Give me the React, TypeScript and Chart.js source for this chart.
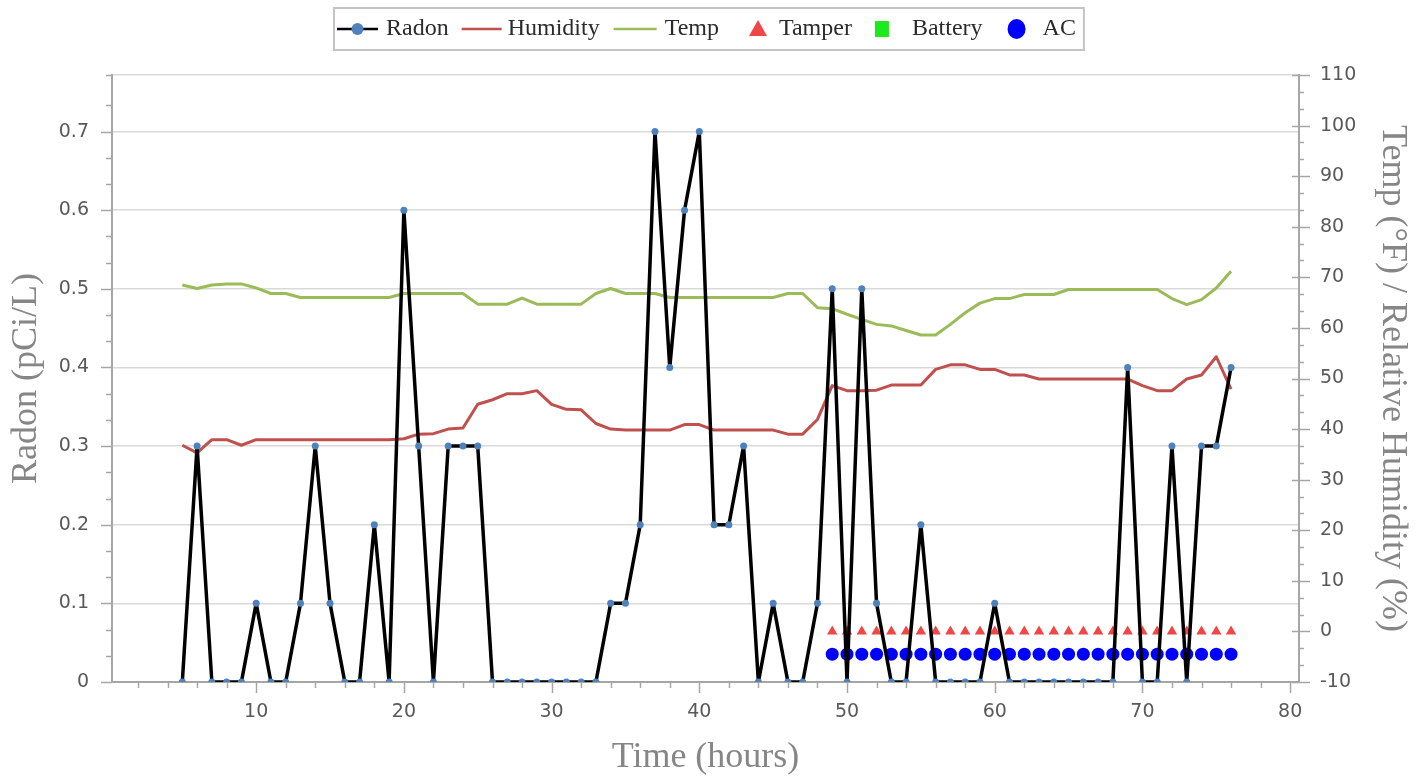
import React, { useEffect, useRef } from "react";
import { Chart, registerables } from "chart.js";
Chart.register(...registerables);

// ---------- DATA ----------
const hours = [
  5, 6, 7, 8, 9, 10, 11, 12, 13, 14,
  15, 16, 17, 18, 19, 20, 21, 22, 23, 24,
  25, 26, 27, 28, 29, 30, 31, 32, 33, 34,
  35, 36, 37, 38, 39, 40, 41, 42, 43, 44,
  45, 46, 47, 48, 49, 50, 51, 52, 53, 54,
  55, 56, 57, 58, 59, 60, 61, 62, 63, 64,
  65, 66, 67, 68, 69, 70, 71, 72, 73, 74,
  75, 76,
];

const radon = [
  0, 0.3, 0, 0, 0, 0.1, 0, 0, 0.1, 0.3,
  0.1, 0, 0, 0.2, 0, 0.6, 0.3, 0, 0.3, 0.3,
  0.3, 0, 0, 0, 0, 0, 0, 0, 0, 0.1,
  0.1, 0.2, 0.7, 0.4, 0.6, 0.7, 0.2, 0.2, 0.3, 0,
  0.1, 0, 0, 0.1, 0.5, 0, 0.5, 0.1, 0, 0,
  0.2, 0, 0, 0, 0, 0.1, 0, 0, 0, 0,
  0, 0, 0, 0, 0.4, 0, 0, 0.3, 0, 0.3,
  0.3, 0.4,
];

const humidity = [
  36.8, 35.3, 37.9, 37.9, 36.8, 37.9, 37.9, 37.9, 37.9, 37.9,
  37.9, 37.9, 37.9, 37.9, 37.9, 38.1, 39.0, 39.1, 40.0, 40.2,
  44.9, 45.8, 47.0, 47.0, 47.6, 44.9, 43.9, 43.8, 41.1, 40.0,
  39.8, 39.8, 39.8, 39.8, 40.9, 40.9, 39.8, 39.8, 39.8, 39.8,
  39.8, 39.0, 39.0, 41.9, 48.6, 47.6, 47.6, 47.7, 48.7, 48.7,
  48.7, 51.8, 52.7, 52.7, 51.8, 51.8, 50.7, 50.7, 49.9, 49.9,
  49.9, 49.9, 49.9, 49.9, 49.9, 48.6, 47.6, 47.6, 49.9, 50.7,
  54.3, 47.9,
];

const temp = [
  68.5, 67.8, 68.5, 68.7, 68.7, 67.9, 66.8, 66.8, 66.0, 66.0,
  66.0, 66.0, 66.0, 66.0, 66.0, 66.8, 66.8, 66.8, 66.8, 66.8,
  64.7, 64.7, 64.7, 65.9, 64.7, 64.7, 64.7, 64.7, 66.8, 67.8,
  66.8, 66.8, 66.8, 66.0, 66.0, 66.0, 66.0, 66.0, 66.0, 66.0,
  66.0, 66.8, 66.8, 64.0, 63.8, 62.7, 61.7, 60.7, 60.4, 59.5,
  58.6, 58.6, 60.7, 63.0, 64.9, 65.8, 65.8, 66.6, 66.6, 66.6,
  67.6, 67.6, 67.6, 67.6, 67.6, 67.6, 67.6, 65.8, 64.6, 65.6,
  67.9, 71.2,
];

const eventHours = [
  49, 50, 51, 52, 53, 54, 55, 56, 57, 58,
  59, 60, 61, 62, 63, 64, 65, 66, 67, 68,
  69, 70, 71, 72, 73, 74, 75, 76,
];
const tamper = [
  0, 0, 0, 0, 0, 0, 0, 0, 0, 0,
  0, 0, 0, 0, 0, 0, 0, 0, 0, 0,
  0, 0, 0, 0, 0, 0, 0, 0,
];
const ac = [
  -4.5, -4.5, -4.5, -4.5, -4.5, -4.5, -4.5, -4.5, -4.5, -4.5,
  -4.5, -4.5, -4.5, -4.5, -4.5, -4.5, -4.5, -4.5, -4.5, -4.5,
  -4.5, -4.5, -4.5, -4.5, -4.5, -4.5, -4.5, -4.5,
];
const battery: number[] = [];

const xTicks = [10, 20, 30, 40, 50, 60, 70, 80];
const radonTicks = [0, 0.1, 0.2, 0.3, 0.4, 0.5, 0.6, 0.7];
const radonTickLabels = ["0", "0.1", "0.2", "0.3", "0.4", "0.5", "0.6", "0.7"];
const envTicks = [-10, 0, 10, 20, 30, 40, 50, 60, 70, 80, 90, 100, 110];

// ---------- STYLE ----------
const AXIS = "#a6a6a6";
const GRID = "#d9d9d9";
const TICK_COLOR = "#595959";
const TITLE_COLOR = "#868686";
const RADON_DOT = "#4f81bd";
const HUM_COLOR = "#c0504d";
const TEMP_COLOR = "#9bbb59";
const TAMPER_COLOR = "#f04646";
const BATTERY_COLOR = "#1ee81e";
const AC_COLOR = "#0000ff";
const X_MIN = 0.24;
const X_MAX = 80.6;
const RADON_MAX = 0.772;
const TICK_FONT = { family: "DejaVu Sans", size: 19 };
const TITLE_FONT = { family: "Liberation Serif", size: 36, lineHeight: 1 };

const legendStyles = [
  { kind: "lineDot", pre: 3, iconW: 41, gap: 8 },
  { kind: "line", color: HUM_COLOR, pre: 13, iconW: 40, gap: 6 },
  { kind: "line", color: TEMP_COLOR, pre: 14, iconW: 43, gap: 8 },
  { kind: "triangle", color: TAMPER_COLOR, pre: 30, iconW: 18, gap: 12 },
  { kind: "square", color: BATTERY_COLOR, pre: 23, iconW: 14, gap: 23 },
  { kind: "circle", color: AC_COLOR, pre: 25, iconW: 18, gap: 17 },
];

const boxLegend = {
  id: "boxLegend",
  afterDraw(chart: any) {
    const ctx = chart.ctx;
    ctx.save();
    ctx.font = '24px "Liberation Serif"';
    const items = chart.data.datasets.map((ds: any, i: number) => ({
      label: ds.label as string,
      st: legendStyles[i],
      w: ctx.measureText(ds.label).width,
    }));
    let total = 8;
    items.forEach((it: any) => (total += it.st.pre + it.st.iconW + it.st.gap + it.w));
    const x0 = Math.round(709 - total / 2);
    const top = 8;
    const h = 42;
    const cy = top + h / 2;
    ctx.fillStyle = "#ffffff";
    ctx.fillRect(x0, top, total, h);
    ctx.strokeStyle = "#c4c4c4";
    ctx.lineWidth = 2;
    ctx.strokeRect(x0, top, total, h);
    let x = x0;
    items.forEach((it: any) => {
      const st = it.st;
      x += st.pre;
      const cx = x + st.iconW / 2;
      if (st.kind === "lineDot") {
        ctx.strokeStyle = "#000";
        ctx.lineWidth = 2.5;
        ctx.beginPath();
        ctx.moveTo(x, cy);
        ctx.lineTo(x + st.iconW, cy);
        ctx.stroke();
        ctx.fillStyle = RADON_DOT;
        ctx.beginPath();
        ctx.arc(cx, cy, 6, 0, Math.PI * 2);
        ctx.fill();
      } else if (st.kind === "line") {
        ctx.strokeStyle = st.color;
        ctx.lineWidth = 2.5;
        ctx.beginPath();
        ctx.moveTo(x, cy);
        ctx.lineTo(x + st.iconW, cy);
        ctx.stroke();
      } else if (st.kind === "triangle") {
        ctx.fillStyle = st.color;
        ctx.beginPath();
        ctx.moveTo(cx, cy - 9);
        ctx.lineTo(cx + 9, cy + 7);
        ctx.lineTo(cx - 9, cy + 7);
        ctx.closePath();
        ctx.fill();
      } else if (st.kind === "square") {
        ctx.fillStyle = st.color;
        ctx.fillRect(cx - 7, cy - 8, 14, 16);
      } else if (st.kind === "circle") {
        ctx.fillStyle = st.color;
        ctx.beginPath();
        ctx.ellipse(cx, cy, 9, 10, 0, 0, Math.PI * 2);
        ctx.fill();
      }
      x += st.iconW + st.gap;
      ctx.fillStyle = "#2b2b2b";
      ctx.textBaseline = "middle";
      ctx.textAlign = "left";
      ctx.fillText(it.label, x, cy);
      x += it.w;
    });
    ctx.restore();
  },
};

const axisMarks = {
  id: "axisMarks",
  beforeDatasetsDraw(chart: any) {
    const ctx = chart.ctx;
    const { left, right, bottom, top } = chart.chartArea;
    const xs = chart.scales.x;
    const yl = chart.scales.y;
    const yr = chart.scales.y1;
    ctx.save();
    ctx.strokeStyle = AXIS;
    ctx.lineWidth = 1.5;
    ctx.beginPath();
    // left axis: majors every 0.1, minors every 0.1/3
    for (let k = 0; k <= 22; k++) {
      const v = k / 30;
      const y = Math.round(yl.getPixelForValue(v)) + 0.5;
      const major = k % 3 === 0;
      ctx.moveTo(left - (major ? 11 : 6), y);
      ctx.lineTo(left, y);
    }
    ctx.moveTo(left - 6, top + 0.5);
    ctx.lineTo(left, top + 0.5);
    // right axis: majors every 10, minors every 10/3
    for (let k = 0; k <= 36; k++) {
      const v = -10 + (k * 10) / 3;
      const y = Math.round(yr.getPixelForValue(v)) + 0.5;
      const major = k % 3 === 0;
      if (major) {
        ctx.moveTo(right - 7, y);
        ctx.lineTo(right + 11, y);
      } else {
        ctx.moveTo(right, y);
        ctx.lineTo(right + 5, y);
      }
    }
    // bottom axis: majors every 10, minors every 2
    for (let t = 2; t <= 80; t += 2) {
      const x = Math.round(xs.getPixelForValue(t)) + 0.5;
      const major = t % 10 === 0;
      ctx.moveTo(x, bottom);
      ctx.lineTo(x, bottom + (major ? 11 : 6));
    }
    ctx.stroke();
    ctx.restore();
  },
};

const pts = (xs: number[], ys: number[]) => xs.map((x, i) => ({ x, y: ys[i] }));

export default function App() {
  const ref = useRef<HTMLCanvasElement | null>(null);
  useEffect(() => {
    if (!ref.current) return;
    const chart = new Chart(ref.current, {
      type: "line",
      data: {
        datasets: [
          {
            label: "Radon",
            data: pts(hours, radon),
            yAxisID: "y",
            borderColor: "#000000",
            borderWidth: 3.5,
            borderJoinStyle: "round",
            pointRadius: 3.5,
            pointBackgroundColor: RADON_DOT,
            pointBorderWidth: 0,
            tension: 0,
          },
          {
            label: "Humidity",
            data: pts(hours, humidity),
            yAxisID: "y1",
            borderColor: HUM_COLOR,
            borderWidth: 3,
            borderJoinStyle: "round",
            pointRadius: 0,
            tension: 0,
          },
          {
            label: "Temp",
            data: pts(hours, temp),
            yAxisID: "y1",
            borderColor: TEMP_COLOR,
            borderWidth: 3,
            borderJoinStyle: "round",
            pointRadius: 0,
            tension: 0,
          },
          {
            label: "Tamper",
            data: pts(eventHours, tamper),
            yAxisID: "y1",
            showLine: false,
            pointStyle: "triangle",
            pointRadius: 6,
            pointBackgroundColor: TAMPER_COLOR,
            pointBorderWidth: 0,
            borderColor: TAMPER_COLOR,
          },
          {
            label: "Battery",
            data: pts(eventHours, battery),
            yAxisID: "y1",
            showLine: false,
            pointStyle: "rect",
            pointRadius: 6,
            pointBackgroundColor: BATTERY_COLOR,
            pointBorderWidth: 0,
            borderColor: BATTERY_COLOR,
          },
          {
            label: "AC",
            data: pts(eventHours, ac),
            yAxisID: "y1",
            showLine: false,
            pointStyle: "circle",
            pointRadius: 6.5,
            pointBackgroundColor: AC_COLOR,
            pointBorderWidth: 0,
            borderColor: AC_COLOR,
          },
        ],
      },
      options: {
        animation: false,
        responsive: false,
        layout: { padding: { top: 75, left: 0, right: 0, bottom: 0 } },
        plugins: { legend: { display: false }, tooltip: { enabled: false } },
        scales: {
          x: {
            type: "linear",
            position: "bottom",
            min: X_MIN,
            max: X_MAX,
            afterBuildTicks: (s: any) => {
              s.ticks = xTicks.map((v) => ({ value: v }));
            },
            afterFit: (s: any) => {
              s.height = 94;
            },
            grid: { display: true, drawOnChartArea: false, drawTicks: false },
            border: { display: true, color: AXIS, width: 2 },
            ticks: {
              font: TICK_FONT,
              color: TICK_COLOR,
              padding: 19,
              maxRotation: 0,
              autoSkip: false,
            },
            title: {
              display: true,
              text: "Time (hours)",
              font: TITLE_FONT,
              color: TITLE_COLOR,
              padding: { top: 0, bottom: 0 },
            },
          },
          y: {
            type: "linear",
            position: "left",
            min: 0,
            max: RADON_MAX,
            afterBuildTicks: (s: any) => {
              s.ticks = radonTicks.map((v) => ({ value: v })).concat([{ value: RADON_MAX }]);
            },
            afterFit: (s: any) => {
              s.width = 112;
            },
            grid: { color: GRID, lineWidth: 1.5, drawTicks: false },
            border: { display: true, color: AXIS, width: 2 },
            ticks: {
              font: TICK_FONT,
              color: TICK_COLOR,
              padding: 23,
              autoSkip: false,
              callback: (_v: any, i: number) => radonTickLabels[i] ?? "",
            },
            title: {
              display: true,
              text: "Radon (pCi/L)",
              font: TITLE_FONT,
              color: TITLE_COLOR,
              padding: { top: 9, bottom: 0 },
            },
          },
          y1: {
            type: "linear",
            position: "right",
            min: -10,
            max: 110,
            afterBuildTicks: (s: any) => {
              s.ticks = envTicks.map((v) => ({ value: v }));
            },
            afterFit: (s: any) => {
              s.width = 119;
            },
            grid: { display: true, drawOnChartArea: false, drawTicks: false },
            border: { display: true, color: AXIS, width: 2 },
            ticks: {
              font: TICK_FONT,
              color: TICK_COLOR,
              padding: 21,
              autoSkip: false,
              callback: (v: any) => String(v),
            },
            title: {
              display: true,
              text: "Temp (°F) / Relative Humidity (%)",
              font: TITLE_FONT,
              color: TITLE_COLOR,
              padding: { top: 8, bottom: 0 },
            },
          },
        },
      },
      plugins: [axisMarks, boxLegend],
    });
    return () => chart.destroy();
  }, []);

  return (
    <div style={{ position: "absolute", left: 0, top: 0, width: 1418, height: 776, background: "#fff" }}>
      <canvas ref={ref} width={1418} height={776} style={{ display: "block", width: 1418, height: 776 }} />
    </div>
  );
}
